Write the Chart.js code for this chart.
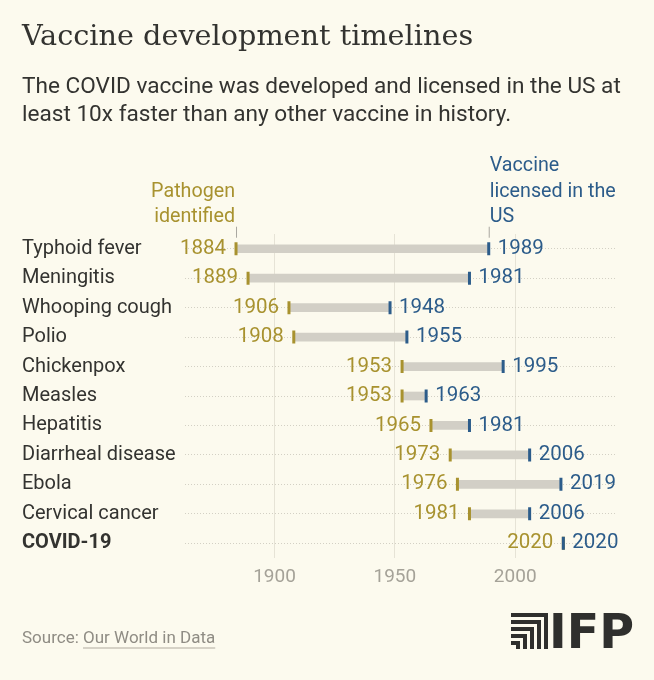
<!DOCTYPE html>
<html>
<head>
<meta charset="utf-8">
<script src="https://cdn.jsdelivr.net/npm/chart.js@4"></script>
<style>
  body { margin: 0; background: #fcfaee; }
  #wrap { position: relative; width: 654px; height: 680px; background: #fcfaee; overflow: hidden; }
  #chart { position: absolute; left: 0; top: 0; }
  .title { position: absolute; left: 22px; top: 18px; font-family: "DejaVu Serif", serif; font-size: 28.7px; color: #333330; white-space: nowrap; }
  .sub { position: absolute; left: 22px; top: 72px; font-family: Roboto, sans-serif; font-size: 22.6px; line-height: 28px; color: #333330; white-space: nowrap; }
  .source { position: absolute; left: 22px; top: 627px; font-family: Roboto, sans-serif; font-size: 17px; color: #8f8c84; }
  .source span { text-decoration: underline; text-decoration-color: #d6d2c6; text-underline-offset: 4px; text-decoration-thickness: 1.5px; }
  #logo { position: absolute; left: 511px; top: 613px; }
</style>
</head>
<body>
<div id="wrap">
  <canvas id="chart" width="654" height="680"></canvas>
  <div class="title">Vaccine development timelines</div>
  <div class="sub">The COVID vaccine was developed and licensed in the US at<br>least 10x faster than any other vaccine in history.</div>
  <div class="source">Source: <span>Our World in Data</span></div>
  <svg id="logo" width="125" height="36" viewBox="0 0 125 36">
    <g fill="#2f2f2d" id="icon"></g>
    <text x="38" y="35" font-family="DejaVu Sans" font-weight="bold" font-size="48" fill="#2f2f2d" textLength="85" lengthAdjust="spacingAndGlyphs">IFP</text>
  </svg>
</div>
<script>
// Data
const diseases = ['Typhoid fever', 'Meningitis', 'Whooping cough', 'Polio', 'Chickenpox', 'Measles',
                  'Hepatitis', 'Diarrheal disease', 'Ebola', 'Cervical cancer', 'COVID-19'];
const identified = [1884, 1889, 1906, 1908, 1953, 1953, 1965, 1973, 1976, 1981, 2020];
const licensed = [1989, 1981, 1948, 1955, 1995, 1963, 1981, 2006, 2019, 2006, 2020];
const xTicks = [1900, 1950, 2000];

const GOLD = '#a8922f';
const BLUE = '#2c5c8a';
const DARK = '#333330';
const FONT = 'Roboto';

// logo icon: nested corners
const icon = document.getElementById('icon');
for (let k = 0; k < 5; k++) {
    const w = 37 - 7 * k, y = 7 * k;
    icon.innerHTML += `<rect x="0" y="${y}" width="${w}" height="4"/><rect x="${w - 4}" y="${y}" width="4" height="${36 - y}"/>`;
}

// Year labels next to the ticks + header annotations
const labelPlugin = {
    id: 'yearLabels',
    afterDatasetsDraw(chart) {
        const { ctx, scales: { x, y } } = chart;
        ctx.save();
        ctx.font = `20.5px ${FONT}`;
        ctx.textBaseline = 'middle';
        diseases.forEach((d, i) => {
            const py = y.getPixelForValue(i);
            ctx.fillStyle = GOLD;
            ctx.textAlign = 'right';
            ctx.fillText(String(identified[i]), x.getPixelForValue(identified[i]) - 10, py);
            ctx.fillStyle = BLUE;
            ctx.textAlign = 'left';
            ctx.fillText(String(licensed[i]), x.getPixelForValue(licensed[i]) + 9, py);
        });

        // annotations over first row
        const y0 = y.getPixelForValue(0);
        const xs = x.getPixelForValue(identified[0]);
        const xe = x.getPixelForValue(licensed[0]);
        ctx.strokeStyle = '#a9a7a0';
        ctx.lineWidth = 1;
        ctx.beginPath();
        ctx.moveTo(xs + 0.5, y0 - 22); ctx.lineTo(xs + 0.5, y0 - 11);
        ctx.moveTo(xe + 0.5, y0 - 22); ctx.lineTo(xe + 0.5, y0 - 11);
        ctx.stroke();

        ctx.font = `19.7px ${FONT}`;
        ctx.fillStyle = GOLD;
        ctx.textAlign = 'right';
        ctx.fillText('Pathogen', xs - 1, y0 - 57);
        ctx.fillText('identified', xs - 1, y0 - 32);

        ctx.fillStyle = BLUE;
        ctx.textAlign = 'left';
        ctx.fillText('Vaccine', xe + 1, y0 - 83);
        ctx.fillText('licensed in the', xe + 1, y0 - 57);
        ctx.fillText('US', xe + 1, y0 - 32);
        ctx.restore();
    }
};

const ctx = document.getElementById('chart').getContext('2d');
new Chart(ctx, {
    type: 'bar',
    data: {
        labels: diseases,
        datasets: [{
            label: 'Identified',
            type: 'line',
            data: diseases.map((d, i) => ({ x: identified[i], y: d })),
            showLine: false,
            pointStyle: 'line',
            rotation: 90,
            pointRadius: 6.5,
            pointBorderWidth: 3,
            borderColor: GOLD,
            order: 1
        }, {
            label: 'Licensed',
            type: 'line',
            data: diseases.map((d, i) => ({ x: licensed[i], y: d })),
            showLine: false,
            pointStyle: 'line',
            rotation: 90,
            pointRadius: 6.5,
            pointBorderWidth: 3,
            borderColor: BLUE,
            order: 0
        }, {
            label: 'Development',
            data: identified.map((s, i) => [s, licensed[i]]),
            backgroundColor: '#d2cfc6',
            barThickness: 8,
            borderWidth: 0,
            order: 2
        }]
    },
    options: {
        indexAxis: 'y',
        responsive: false,
        animation: false,
        layout: { padding: { top: 234, left: 22, right: 37, bottom: 0 } },
        plugins: {
            legend: { display: false },
            tooltip: { enabled: false }
        },
        scales: {
            x: {
                type: 'linear',
                min: 1862.8,
                max: 2042.3,
                afterBuildTicks: (s) => { s.ticks = xTicks.map(v => ({ value: v })); },
                afterFit: (s) => { s.height = 122; },
                grid: { color: '#e6e3d6', lineWidth: 1, drawTicks: false },
                border: { display: false },
                ticks: {
                    color: '#a5a298',
                    font: { family: FONT, size: 19 },
                    padding: 8,
                    callback: (v) => String(v)
                }
            },
            y: {
                type: 'category',
                afterFit: (s) => { s.width = 163; },
                grid: { color: '#d3d0c4', lineWidth: 1, offset: false, drawTicks: false },
                border: { display: false, dash: [1, 2] },
                ticks: {
                    crossAlign: 'far',
                    padding: 0,
                    color: DARK,
                    font: (c) => c.index === diseases.length - 1
                        ? { family: FONT, size: 20, weight: 'bold' }
                        : { family: FONT, size: 20 }
                }
            }
        }
    },
    plugins: [labelPlugin]
});
</script>
</body>
</html>
